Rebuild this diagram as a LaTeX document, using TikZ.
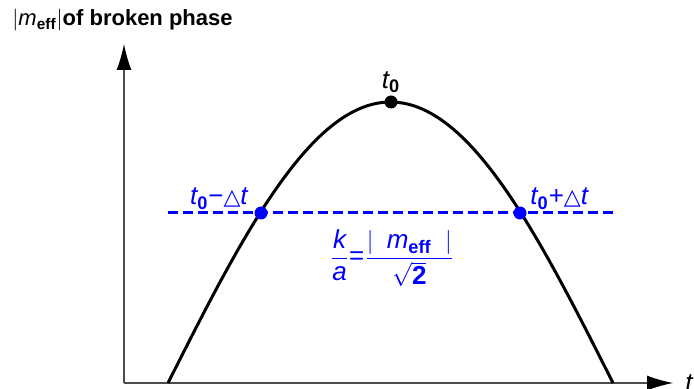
\documentclass[tikz,border=0pt]{standalone}
\usepackage{amsmath}
\usepackage{fontspec}
\setmainfont{Liberation Sans}
\newfontfamily\dejavu{DejaVu Sans}
\usepackage{tikz}
\usetikzlibrary{arrows.meta, positioning, calc}
\definecolor{mBlue}{RGB}{0,0,255}
\newcommand{\tnull}{$\textit{t}_{\textbf{0}}$}
\newcommand{\dlt}{{\dejavu\fontsize{11}{13}\selectfont △}\textit{t}}

\begin{document}
\begin{tikzpicture}[
    x=0.5pt, y=-0.5pt,
    axis/.style={draw=black!70, line width=0.6pt,
                 -{Latex[length=13pt, width=7.5pt, color=black]}},
    curve/.style={draw, line width=1.5pt},
    level/.style={draw=mBlue, line width=1.5pt, dash pattern=on 5pt off 2.5pt},
    dot/.style={circle, fill, inner sep=0pt, minimum size=6.5pt},
    ann/.style={font=\fontsize{11}{13}\selectfont, inner sep=1pt},
    lab/.style={font=\fontsize{13}{15}\selectfont, inner sep=1pt},
  ]
    \useasboundingbox (0,0) rectangle (694,389);
    \coordinate (o) at (124,383);
    \coordinate (ytip) at (124,44);
    \coordinate (xtip) at (673,383);
    \draw[axis] (o) -- (ytip);
    \draw[axis] (o) -- (xtip);
    \node[ann, anchor=west] (ylab) at (10,20)
      {$|\textit{m}_{\textbf{eff}}|$\textbf{of broken phase}};
    \node[lab, anchor=west] (xlab) at (683,383) {\textit{t}};

    \draw[curve] plot[domain=168:613, samples=90]
      (\x, {383 - 281*cos((\x-390.5)/445*180)});

    \coordinate (dl) at (168,213);
    \coordinate (dr) at (613,213);
    \draw[level] (dl) -- (dr);

    \node[dot] (top) at (391,102) {};
    \node[lab, above=0pt of top] (toplab) {\tnull};
    \node[dot, mBlue] (left) at (261,213) {};
    \node[dot, mBlue] (right) at (520,213) {};
    \node[lab, mBlue, anchor=south east] (leftlab) at ($(left)+(-10,-1)$)
      {\tnull−\dlt};
    \node[lab, mBlue, anchor=south west] (rightlab) at ($(right)+(8,-1)$)
      {\tnull+\dlt};
    \node[lab, mBlue] (ratio) at (392,258)
      {$\dfrac{\textit{k}}{\textit{a}}$=$\dfrac{|\;\;\textit{m}_{\textbf{eff}}\;\;|}{\sqrt{\textbf{2}}}$};
\end{tikzpicture}
\end{document}
